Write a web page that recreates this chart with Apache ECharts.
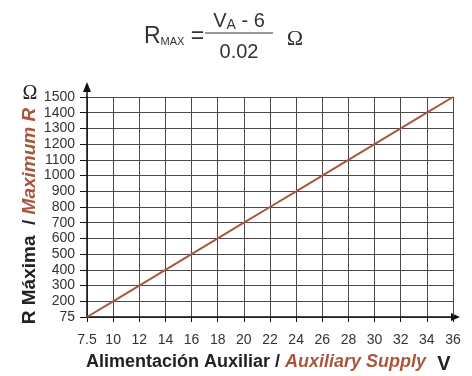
<!DOCTYPE html>
<html>
<head>
<meta charset="utf-8">
<script src="https://cdn.jsdelivr.net/npm/echarts@6/dist/echarts.min.js"></script>
<style>
  html, body { margin: 0; padding: 0; background: #fff; }
  #chart { width: 472px; height: 376px; }
</style>
</head>
<body>
<div id="chart"></div>
<script>
// supply voltage (x ticks) and max resistance at each
const volts = [7.5, 10, 12, 14, 16, 18, 20, 22, 24, 26, 28, 30, 32, 34, 36]
const rTicks = [75, 200, 300, 400, 500, 600, 700, 800, 900, 1000, 1100, 1200, 1300, 1400, 1500]
const rMax = [75, 200, 300, 400, 500, 600, 700, 800, 900, 1000, 1100, 1200, 1300, 1400, 1500]

const BROWN = '#a9573c'
const GRID = '#4a4a4a'
const FONT = '"Liberation Sans", Arial, sans-serif'

const chart = echarts.init(document.getElementById('chart'))

chart.setOption({
  animation: false,
  grid: { left: 87, right: 19, top: 97, bottom: 59 },
  xAxis: {
    type: 'category',
    boundaryGap: false,
    data: volts.map(String),
    axisLine: { lineStyle: { color: '#111', width: 1.5 } },
    axisTick: { show: true, length: 5, interval: 0, lineStyle: { color: '#111' } },
    axisLabel: { interval: 0, color: '#333', fontSize: 14, fontFamily: FONT, margin: 16 },
    splitLine: { show: true, interval: 0, lineStyle: { color: GRID, width: 1 } },
  },
  yAxis: {
    type: 'category',
    boundaryGap: false,
    data: rTicks.map(String),
    axisLine: { lineStyle: { color: '#111', width: 1.5 } },
    axisTick: { show: true, length: 7, interval: 0, lineStyle: { color: '#111' } },
    axisLabel: { interval: 0, color: '#333', fontSize: 14, fontFamily: FONT, margin: 12 },
    splitLine: { show: true, interval: 0, lineStyle: { color: GRID, width: 1 } },
  },
  series: [{
    type: 'line',
    data: volts.map((v, i) => [String(v), String(rMax[i])]),
    symbol: 'none',
    lineStyle: { color: BROWN, width: 2 },
  }],
  graphic: [
    // axis arrows
    { type: 'line', shape: { x1: 87, y1: 97, x2: 87, y2: 90 }, style: { stroke: '#111', lineWidth: 1.5 } },
    { type: 'polygon', shape: { points: [[87, 82], [83, 92], [91, 92]] }, style: { fill: '#111' } },
    { type: 'polygon', shape: { points: [[460, 317], [451, 313], [451, 321]] }, style: { fill: '#111' } },
    // formula
    {
      type: 'text', x: 144, y: 37,
      style: {
        text: '{r|R}{s|MAX}{e| =}',
        verticalAlign: 'middle',
        rich: {
          r: { fontSize: 23, fontFamily: FONT, fill: '#333' },
          s: { fontSize: 11, fontFamily: FONT, fill: '#333', padding: [10, 0, 0, 0] },
          e: { fontSize: 23, fontFamily: FONT, fill: '#333' },
        },
      },
    },
    {
      type: 'text', x: 239, y: 21,
      style: {
        text: '{v|V}{a|A}{v| - 6}',
        align: 'center', verticalAlign: 'middle',
        rich: {
          v: { fontSize: 20, fontFamily: FONT, fill: '#333' },
          a: { fontSize: 14, fontFamily: FONT, fill: '#333', padding: [9, 0, 0, 0] },
        },
      },
    },
    { type: 'line', shape: { x1: 205, y1: 33, x2: 273, y2: 33 }, style: { stroke: '#333', lineWidth: 1.2 } },
    {
      type: 'text', x: 239, y: 52,
      style: { text: '0.02', align: 'center', verticalAlign: 'middle', fontSize: 20, fontFamily: FONT, fill: '#333' },
    },
    {
      type: 'text', x: 295, y: 39,
      style: { text: 'Ω', align: 'center', verticalAlign: 'middle', fontSize: 22, fontFamily: '"Liberation Serif", serif', fill: '#333' },
    },
    // unit symbols
    {
      type: 'text', x: 30, y: 94,
      style: { text: 'Ω', align: 'center', verticalAlign: 'middle', fontSize: 20, fontFamily: '"Liberation Serif", serif', fill: '#222' },
    },
    {
      type: 'text', x: 444, y: 364,
      style: { text: 'V', align: 'center', verticalAlign: 'middle', fontSize: 20, fontWeight: 'bold', fontFamily: FONT, fill: '#222' },
    },
    // axis titles
    {
      type: 'text', x: 256, y: 362,
      style: {
        text: '{a|Alimentación Auxiliar / }{b|Auxiliary Supply}',
        align: 'center', verticalAlign: 'middle',
        rich: {
          a: { fontSize: 18, fontWeight: 'bold', fontFamily: FONT, fill: '#222' },
          b: { fontSize: 18, fontWeight: 'bold', fontStyle: 'italic', fontFamily: FONT, fill: BROWN },
        },
      },
    },
    {
      type: 'text', x: 30, y: 216, rotation: Math.PI / 2,
      style: {
        text: '{a|R Máxima  / }{b|Maximum R}',
        align: 'center', verticalAlign: 'middle',
        rich: {
          a: { fontSize: 19, fontWeight: 'bold', fontFamily: FONT, fill: '#222' },
          b: { fontSize: 19, fontWeight: 'bold', fontStyle: 'italic', fontFamily: FONT, fill: BROWN },
        },
      },
    },
  ],
})

window.addEventListener('resize', () => chart.resize())
</script>
</body>
</html>
